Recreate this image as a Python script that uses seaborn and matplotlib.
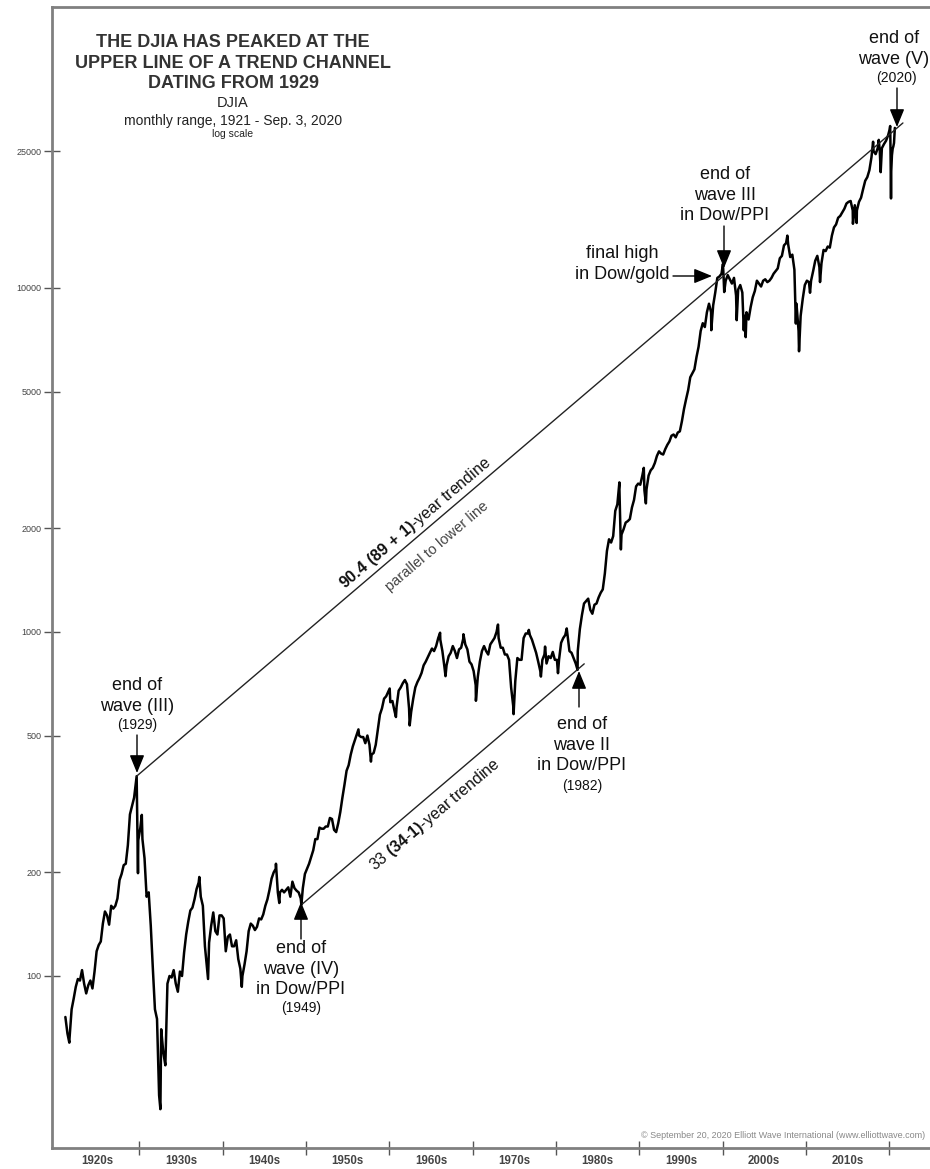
import matplotlib
matplotlib.use("Agg")
import matplotlib.pyplot as plt
from matplotlib.ticker import FixedLocator, NullLocator, NullFormatter, FixedFormatter
import numpy as np
import pandas as pd
import seaborn as sns

sns.set_theme(style="white")
plt.rcParams["font.family"] = ["Liberation Sans", "DejaVu Sans"]
plt.rcParams["mathtext.fontset"] = "custom"
plt.rcParams["mathtext.rm"] = "Liberation Sans"
plt.rcParams["mathtext.bf"] = "Liberation Sans:bold"

# ---------------- data (DJIA) ----------------
# quarterly representative levels
q_1921_1929 = [76, 68, 66, 80,   86, 93, 98, 97,   104, 95, 89, 94,
               97, 92, 103, 118,  123, 126, 142, 154,  150, 141, 160, 157,
               160, 168, 190, 198,  210, 212, 240, 295,  312, 330, 370, 248]
q_1930_1939 = [270, 250, 220, 170,  175, 140, 105, 80,  75, 45, 70, 60,
               55, 95, 100, 99,  104, 95, 90, 103,  100, 117, 132, 144,
               155, 158, 167, 179,  187, 170, 160, 122,  105, 125, 140, 153,
               135, 132, 150, 150]
q_1940_1949 = [147, 118, 130, 132,  122, 122, 127, 112,  105, 100, 108, 118,
               135, 142, 140, 136,  139, 147, 146, 151,  160, 167, 178, 192,
               200, 205, 175, 175,  178, 175, 178, 181,  170, 188, 180, 177,
               175, 168, 180, 198]
q_1950_1959 = [205, 212, 222, 232,  250, 250, 270, 268,  268, 272, 272, 288,
               286, 266, 262, 278,  300, 330, 360, 395,  410, 440, 465, 485,
               505, 500, 495, 495,  475, 500, 470, 440,  445, 470, 520, 575,
               600, 640, 650, 670]
q_1960_1969 = [625, 630, 590, 605,  675, 690, 710, 725,  705, 600, 585, 640,
               690, 715, 735, 760,  800, 820, 845, 870,  895, 880, 910, 960,
               950, 880, 790, 800,  850, 870, 910, 880,  840, 890, 900, 955,
               920, 890, 820, 805]
q_1970_1979 = [770, 700, 740, 820,  880, 910, 880, 860,  920, 940, 960, 1000,
               960, 900, 900, 860,  860, 830, 690, 610,  720, 840, 830, 830,
               960, 990, 990, 980,  950, 910, 870, 820,  770, 830, 860, 810,
               850, 840, 875, 830]
q_1980_1989 = [830, 830, 930, 960,  980, 990, 880, 870,  840, 810, 880, 1020,
               1120, 1210, 1230, 1250,  1160, 1130, 1200, 1210,
               1260, 1300, 1330, 1480,  1720, 1860, 1820, 1900,
               2250, 2350, 2600, 1920,  1990, 2080, 2100, 2130,
               2300, 2420, 2650, 2700]
q_1990_1999 = [2680, 2850, 2580, 2600,  2850, 2950, 3000, 3100,
               3250, 3350, 3300, 3280,  3400, 3500, 3580, 3720,
               3750, 3680, 3800, 3830,  4100, 4450, 4750, 5050,
               5500, 5650, 5800, 6300,  6750, 7500, 7900, 7700,
               8500, 9000, 8500, 8900,  9700, 10700, 10800, 11000]
q_2000_2009 = [10800, 10500, 10900, 10600,  10300, 10700, 9500, 9900,
               10200, 9700, 8300, 8500,  8100, 8800, 9400, 9800,
               10500, 10300, 10100, 10500,  10600, 10400, 10500, 10700,
               11000, 11200, 11400, 12200,  12400, 13300, 13500, 13400,
               12300, 12500, 11300, 9000,  7500, 8300, 9300, 10200]
q_2010_2019 = [10500, 10400, 10500, 11200,  12000, 12400, 11500, 11800,
               12900, 12800, 13200, 13100,  14200, 15000, 15300, 16000,
               16200, 16600, 17000, 17600,  17800, 17900, 16800, 17400,
               16800, 17800, 18300, 19400,  20500, 21000, 22000, 24000,
               25000, 24500, 25500, 25000,  25500, 26200, 26800, 27800]
decade_starts = [1921, 1930, 1940, 1950, 1960, 1970, 1980, 1990, 2000, 2010]
decade_series = [q_1921_1929, q_1930_1939, q_1940_1949, q_1950_1959,
                 q_1960_1969, q_1970_1979, q_1980_1989, q_1990_1999,
                 q_2000_2009, q_2010_2019]

# 2020 (monthly detail)
y2020_dates = [2020.04, 2020.12, 2020.16, 2020.22, 2020.25, 2020.33,
               2020.42, 2020.50, 2020.58, 2020.66, 2020.68]
y2020_vals = [28800, 29568, 25400, 18213, 21900, 24300,
              25400, 25800, 26400, 28400, 29199]

# monthly extremes (highs / lows of the range bars)
ext_dates = [1921.60, 1929.68, 1929.84, 1930.30, 1932.53, 1937.20, 1938.25,
             1942.30, 1946.40, 1946.80, 1949.45, 1956.30, 1957.80, 1960.05,
             1960.80, 1962.45, 1966.10, 1966.75, 1968.90, 1970.40, 1973.05,
             1974.92, 1976.75, 1978.20, 1978.70, 1980.25, 1981.30, 1982.60,
             1987.62, 1987.80, 1990.55, 1990.80, 1998.65, 2000.05, 2000.20,
             2001.70, 2002.55, 2002.78, 2007.78, 2008.80, 2009.18, 2010.50,
             2011.70, 2015.65, 2016.10, 2018.07, 2018.75, 2018.98]
ext_vals = [64, 381, 199, 294, 41, 194, 98,
            93, 212, 163, 161, 521, 420, 685,
            566, 535, 995, 744, 985, 631, 1051,
            577, 1014, 742, 907, 759, 1024, 776,
            2722, 1738, 3000, 2365, 7539, 11750, 9731,
            8062, 7532, 7197, 14198, 7882, 6547, 9686,
            10404, 15370, 15451, 26617, 26951, 21712]

# trend channel lines (endpoints)
upper_trend_years = [1929.68, 2021.65]
upper_trend_vals = [381, 30180]
lower_trend_years = [1949.45, 1983.40]
lower_trend_vals = [161, 808]

# axis labels
y_ticks = [100, 200, 500, 1000, 2000, 5000, 10000, 25000]
decade_ticks = [1930, 1940, 1950, 1960, 1970, 1980, 1990, 2000, 2010, 2020]
decade_labels = ["1920s", "1930s", "1940s", "1950s", "1960s",
                 "1970s", "1980s", "1990s", "2000s", "2010s"]

# ---------------- build table ----------------
rows = []
for start, vals in zip(decade_starts, decade_series):
    for i, v in enumerate(vals):
        rows.append((start + (i + 0.5) / 4.0, v))
rows += list(zip(y2020_dates, y2020_vals))
rows += list(zip(ext_dates, ext_vals))
df = pd.DataFrame(rows, columns=["year", "djia"]).sort_values("year")

# ---------------- figure ----------------
W, H = 930, 1169
fig = plt.figure(figsize=(W / 100, H / 100), dpi=100)
ax = fig.add_axes([52 / W, (H - 1148) / H, 1 - 52 / W, (1148 - 7) / H])

sns.lineplot(data=df, x="year", y="djia", ax=ax, color="black",
             linewidth=1.8, estimator=None, sort=False)
ax.plot(upper_trend_years, upper_trend_vals, color="#222222", linewidth=1.0)
ax.plot(lower_trend_years, lower_trend_vals, color="#222222", linewidth=1.0)

ax.set_yscale("log")
ax.set_xlim(1919.52, 2024.9)
ax.set_ylim(31.62, 65590)
ax.set_xlabel("")
ax.set_ylabel("")

ax.yaxis.set_major_locator(FixedLocator(y_ticks))
ax.yaxis.set_major_formatter(FixedFormatter([str(v) for v in y_ticks]))
ax.yaxis.set_minor_locator(NullLocator())
ax.tick_params(axis="y", which="major", direction="inout", length=11,
               width=1, color="#555555", labelsize=6.5, labelcolor="#444444",
               pad=2, left=True)

ax.xaxis.set_major_locator(FixedLocator(decade_ticks))
ax.xaxis.set_major_formatter(NullFormatter())
ax.xaxis.set_minor_locator(FixedLocator([d - 5 for d in decade_ticks]))
ax.xaxis.set_minor_formatter(FixedFormatter(decade_labels))
ax.tick_params(axis="x", which="major", direction="inout", length=10,
               width=1, color="#555555", bottom=True)
ax.tick_params(axis="x", which="minor", length=0, labelsize=8.3,
               labelcolor="#444444", pad=5, bottom=True)
for lab in ax.xaxis.get_minorticklabels():
    lab.set_fontweight("bold")

for side in ["left", "top", "bottom"]:
    ax.spines[side].set_color("#808080")
    ax.spines[side].set_linewidth(2)
ax.spines["right"].set_visible(False)
ax.grid(False)


def P(x, y):
    return (x, H - y)


def txt(s, x, y, size, weight="normal", color="#111111", ha="center", **kw):
    ax.annotate(s, xy=P(x, y), xycoords="figure pixels", ha=ha, va="center",
                fontsize=size, fontweight=weight, color=color,
                annotation_clip=False, **kw)


def arrow(x0, y0, x1, y1):
    ax.annotate("", xy=P(x1, y1), xytext=P(x0, y0), xycoords="figure pixels",
                textcoords="figure pixels", annotation_clip=False,
                arrowprops=dict(arrowstyle="-|>,head_length=1.1,head_width=0.45",
                                mutation_scale=10, color="black", lw=1.0,
                                shrinkA=0, shrinkB=0))


LS = 1.25

# title block
txt("THE DJIA HAS PEAKED AT THE\nUPPER LINE OF A TREND CHANNEL\nDATING FROM 1929",
    233, 63, 13, weight="bold", color="#333333", linespacing=LS)
txt("DJIA", 233, 103, 10.5, color="#222222")
txt("monthly range, 1921 - Sep. 3, 2020", 233, 121, 10, color="#222222")
txt("log scale", 233, 134, 7.5, color="#222222")

# annotations
txt("end of\nwave (V)", 894, 49, 13, linespacing=LS)
txt("(2020)", 896, 78, 10)
arrow(897, 88, 897, 127)

txt("end of\nwave III\nin Dow/PPI", 725, 195, 13, linespacing=LS)
arrow(724, 226, 724, 268)

txt("final high\nin Dow/gold", 622, 264, 13, linespacing=LS)
arrow(673, 276, 712, 276)

txt("end of\nwave (III)", 137, 696, 13, linespacing=LS)
txt("(1929)", 137, 725, 10)
arrow(137, 735, 137, 773)

arrow(301, 939, 301, 902)
txt("end of\nwave (IV)\nin Dow/PPI", 301, 969, 13, linespacing=LS)
txt("(1949)", 301, 1008, 10)

arrow(579, 707, 579, 671)
txt("end of\nwave II\nin Dow/PPI", 582, 745, 13, linespacing=LS)
txt("(1982)", 582, 786, 10)

# trendline labels
ang = 40.4
ax.annotate(r"$\mathbf{90.4\ (89\ {+}\ 1)}$-year trendine", xy=P(415, 523),
            xycoords="figure pixels", ha="center", va="center", fontsize=11.5,
            color="#111111", rotation=ang, rotation_mode="anchor",
            annotation_clip=False)
ax.annotate("parallel to lower line", xy=P(437, 546), xycoords="figure pixels",
            ha="center", va="center", fontsize=10.5, color="#444444",
            rotation=ang, rotation_mode="anchor", annotation_clip=False)
ax.annotate(r"33 $\mathbf{(34\text{-}1)}$-year trendine", xy=P(435, 815),
            xycoords="figure pixels", ha="center", va="center", fontsize=11.5,
            color="#111111", rotation=40.0, rotation_mode="anchor",
            annotation_clip=False)

fig.text(641 / W, (H - 1135) / H,
         "\u00a9 September 20, 2020 Elliott Wave International (www.elliottwave.com)",
         ha="left", va="center", fontsize=6.5, color="#888888")

fig.savefig("out.png", dpi=100)
